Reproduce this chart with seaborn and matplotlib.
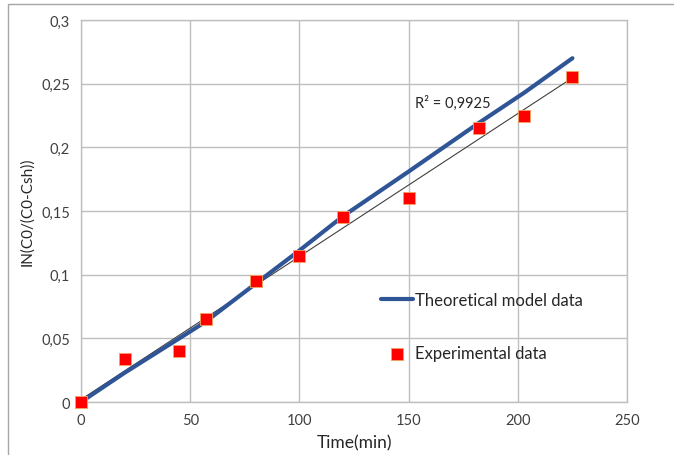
import matplotlib
matplotlib.use("Agg")
import matplotlib.pyplot as plt
import seaborn as sns
import pandas as pd
import numpy as np
from matplotlib.patches import Rectangle

time_min = [0, 20, 45, 57, 80, 100, 120, 150, 182, 203, 225]
experimental = [0, 0.034, 0.040, 0.065, 0.095, 0.115, 0.145, 0.160, 0.215, 0.225, 0.255]
theoretical = [0, 0.023, 0.050, 0.063, 0.093, 0.119, 0.146, 0.181, 0.219, 0.243, 0.270]
x_ticks = [0, 50, 100, 150, 200, 250]
y_ticks = [0, 0.05, 0.1, 0.15, 0.2, 0.25, 0.3]
y_tick_labels = ["0", "0,05", "0,1", "0,15", "0,2", "0,25", "0,3"]
r2_label = "R² = 0,9925"

df = pd.DataFrame({"t": time_min, "exp": experimental, "theo": theoretical})

sns.set_theme(style="white")
plt.rcParams['font.family'] = ['Lato', 'DejaVu Sans']

fig = plt.figure(figsize=(6.74, 4.56), dpi=100)
ax = fig.add_axes([0.1202, 0.1162, 0.9303 - 0.1202, 0.9539 - 0.1162])

# outer frame
fig.patches.append(Rectangle((8 / 674, -0.1), 1.2, 1 - 5 / 456 + 0.1, transform=fig.transFigure,
                             fill=False, edgecolor="#a6a6a6", lw=1.0, zorder=0))

sns.regplot(data=df, x="t", y="exp", ax=ax, scatter=False, ci=None, truncate=True,
            line_kws=dict(color="#404040", lw=0.8, zorder=3))
sns.lineplot(data=df, x="t", y="theo", ax=ax, color="#2f5597", lw=3,
             label="Theoretical model data", zorder=4)
sns.scatterplot(data=df, x="t", y="exp", ax=ax, marker="s", s=70, color="#ff0000",
                edgecolor="#f4a460", linewidth=0.6, label="Experimental data", zorder=5)
for coll in ax.collections:
    coll.set_clip_on(False)

ax.set_xlim(0, 250)
ax.set_ylim(0, 0.3)
ax.set_xticks(x_ticks)
ax.set_yticks(y_ticks)
ax.set_yticklabels(y_tick_labels)
ax.grid(True, color="#bfbfbf", lw=1)
for s in ax.spines.values():
    s.set_color("#bfbfbf")
    s.set_linewidth(1)
ax.tick_params(axis="both", labelsize=10.5, colors="#404040", length=0, pad=8)
ax.set_xlabel("Time(min)", fontsize=12.5, color="#262626", labelpad=5)
ax.set_ylabel("IN(C0/(C0-Csh))", fontsize=11, color="#262626", labelpad=5)

ax.text(153, 0.2357, r2_label, fontsize=10.5, color="#262626", va="center", ha="left")

leg = ax.legend(loc="upper left", bbox_to_anchor=(0.522, 0.328), frameon=False,
                fontsize=12, labelspacing=2.25, handlelength=1.9, handletextpad=0.15,
                labelcolor="#262626")

fig.savefig("out.png", dpi=100)
